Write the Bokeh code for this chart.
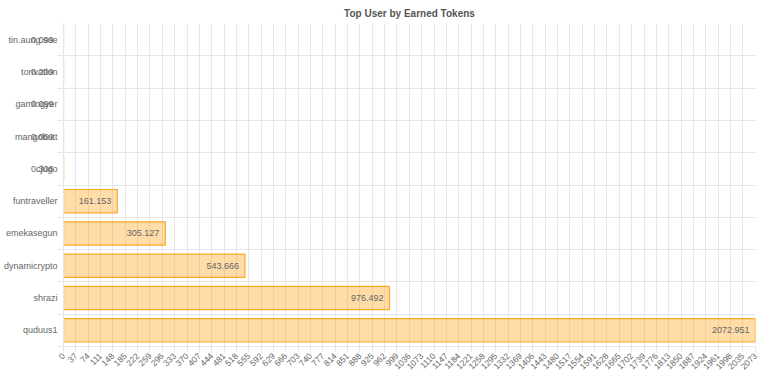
from bokeh.plotting import figure
from bokeh.models import ColumnDataSource, Range1d, FixedTicker, Label, LinearAxis
from bokeh.embed import file_html
from bokeh.resources import INLINE
import math

# ---- data (bottom to top) ----
users = ["quduus1", "shrazi", "dynamicrypto", "emekasegun", "funtraveller",
         "cjugo", "mangobutt", "gamingyer", "tonvotion", "tin.aung.soe"]
tokens = [2072.951, 976.492, 543.666, 305.127, 161.153,
          0.306, 0.069, 0.099, 0.209, 0.099]
x_ticks = [0, 37, 74, 111, 148, 185, 222, 259, 296, 333, 370, 407, 444, 481,
           518, 555, 592, 629, 666, 703, 740, 777, 814, 851, 888, 925, 962,
           999, 1036, 1073, 1110, 1147, 1184, 1221, 1258, 1295, 1332, 1369,
           1406, 1443, 1480, 1517, 1554, 1591, 1628, 1665, 1702, 1739, 1776,
           1813, 1850, 1887, 1924, 1961, 1998, 2035, 2073]
title = "Top User by Earned Tokens"

FONT = "Liberation Sans"
GRID = "#e6e6e6"
TXT = "#666666"

ypos = list(range(len(users)))
src = ColumnDataSource(dict(y=ypos, x=tokens))

p = figure(width=760, height=375, output_backend="svg", toolbar_location=None,
           x_range=Range1d(0, x_ticks[-1]), y_range=Range1d(-0.5, len(users) - 0.5),
           title=title, min_border_right=5, min_border_bottom=28,
           min_border_left=54, min_border_top=4)
p.outline_line_color = None
p.background_fill_color = "white"
p.border_fill_color = "white"

p.title.align = "center"
p.title.text_font = FONT
p.title.text_font_size = "10px"
p.title.text_font_style = "bold"
p.title.text_color = "#555555"

p.hbar(y="y", right="x", left=0, height=0.72, source=src,
       fill_color="#FFA726", fill_alpha=0.4, line_color="#FFA726", line_width=1.2)

# value labels: inside the bar end; tiny bars spill left of the axis
small = [i for i, v in enumerate(tokens) if v < 120]
for i, v in enumerate(tokens):
    if i not in small:
        p.add_layout(Label(x=v, y=ypos[i], text="%.3f" % v, text_align="right",
                           text_baseline="middle", x_offset=-6,
                           text_font_size="9px", text_color=TXT, text_font=FONT))

# x axis
p.xaxis.ticker = FixedTicker(ticks=x_ticks, minor_ticks=[])
p.xaxis.major_label_orientation = math.pi / 4
p.xaxis.major_label_text_font = FONT
p.xaxis.major_label_text_font_size = "8.5px"
p.xaxis.major_label_text_color = TXT
p.xaxis.axis_line_color = GRID
p.xaxis.major_tick_line_color = GRID
p.xaxis.major_tick_out = 6
p.xaxis.major_tick_in = 0
p.xaxis.major_label_standoff = 2

# y axis (names)
yax = p.yaxis[0]
bounds = [i - 0.5 for i in range(len(users))]
yax.ticker = FixedTicker(ticks=ypos, minor_ticks=bounds)
yax.major_label_overrides = {i: u for i, u in enumerate(users)}
yax.major_label_text_font = FONT
yax.major_label_text_font_size = "9px"
yax.major_label_text_color = TXT
yax.axis_line_color = GRID
yax.major_tick_out = 0
yax.major_tick_in = 0
yax.minor_tick_out = 6
yax.minor_tick_in = 0
yax.minor_tick_line_color = GRID
yax.major_label_standoff = 0

# second (outer) left axis carrying the spilled value labels, pulled back
# over the name labels with a negative standoff
vax = LinearAxis(ticker=FixedTicker(ticks=[ypos[i] for i in small], minor_ticks=[]),
                 major_label_overrides={ypos[i]: "%.3f" % tokens[i] for i in small},
                 major_label_text_font=FONT, major_label_text_font_size="9px",
                 major_label_text_color=TXT, axis_line_color=None,
                 major_tick_line_color=None, major_tick_out=0, major_tick_in=0,
                 minor_tick_line_color=None, minor_tick_out=0, minor_tick_in=0,
                 major_label_standoff=-53)
p.add_layout(vax, "left")

p.xgrid.ticker = FixedTicker(ticks=x_ticks)
p.xgrid.grid_line_color = GRID
p.ygrid.ticker = FixedTicker(ticks=bounds)
p.ygrid.grid_line_color = GRID

open("out.html", "w").write(file_html(p, INLINE))
